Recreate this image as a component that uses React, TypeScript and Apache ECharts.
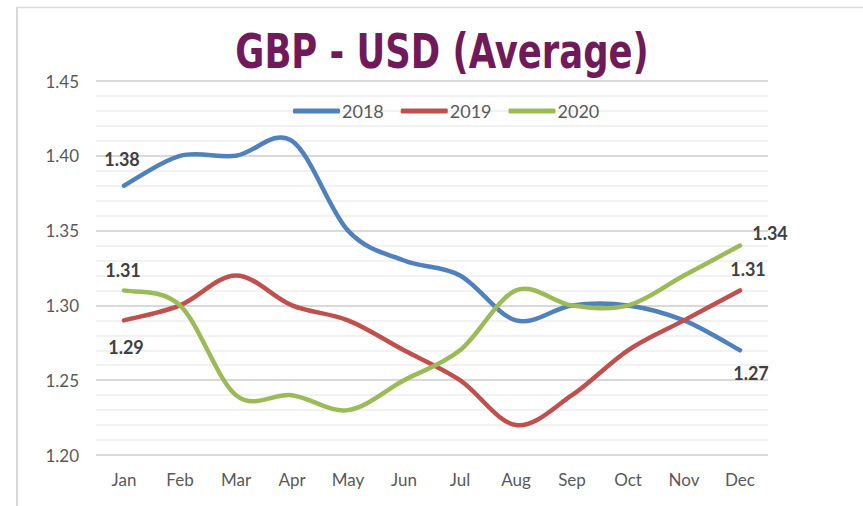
import React, { useEffect, useRef } from "react";
import * as echarts from "echarts";

const months = ["Jan", "Feb", "Mar", "Apr", "May", "Jun", "Jul", "Aug", "Sep", "Oct", "Nov", "Dec"];
const seriesNames = ["2018", "2019", "2020"];
const values2018 = [1.38, 1.40, 1.40, 1.41, 1.35, 1.33, 1.32, 1.29, 1.30, 1.30, 1.29, 1.27];
const values2019 = [1.29, 1.30, 1.32, 1.30, 1.29, 1.27, 1.25, 1.22, 1.24, 1.27, 1.29, 1.31];
const values2020 = [1.31, 1.30, 1.24, 1.24, 1.23, 1.25, 1.27, 1.31, 1.30, 1.30, 1.32, 1.34];
const colors = ["#4F81BD", "#C0504D", "#9BBB59"];

// which points carry a value label, and where the label sits relative to the point (px)
const labelSpots: Record<string, { index: number; offset: [number, number] }[]> = {
  "2018": [
    { index: 0, offset: [-2, -27] },
    { index: 11, offset: [11, 23] },
  ],
  "2019": [
    { index: 0, offset: [2, 27] },
    { index: 11, offset: [8, -21] },
  ],
  "2020": [
    { index: 0, offset: [-1, -20] },
    { index: 11, offset: [30, -13] },
  ],
};

const FONT = "Lato, 'Open Sans', sans-serif";

// Excel-like smoothed curve (Catmull-Rom converted to cubic Bezier) through pixel points
function smoothPath(pts: number[][]): string {
  let d = `M${pts[0][0]},${pts[0][1]}`;
  for (let i = 0; i < pts.length - 1; i++) {
    const p0 = pts[Math.max(0, i - 1)];
    const p1 = pts[i];
    const p2 = pts[i + 1];
    const p3 = pts[Math.min(pts.length - 1, i + 2)];
    const t = 1 / 6;
    const c1x = p1[0] + (p2[0] - p0[0]) * t;
    const c1y = p1[1] + (p2[1] - p0[1]) * t;
    const c2x = p2[0] - (p3[0] - p1[0]) * t;
    const c2y = p2[1] - (p3[1] - p1[1]) * t;
    d += ` C${c1x},${c1y} ${c2x},${c2y} ${p2[0]},${p2[1]}`;
  }
  return d;
}

export default function App() {
  const ref = useRef<HTMLDivElement>(null);
  useEffect(() => {
    if (!ref.current) return;
    const chart = echarts.init(ref.current, null, { renderer: "svg" });
    const all = [values2018, values2019, values2020];
    const series = seriesNames.map((name, si) => {
      const vals = all[si];
      const spots = labelSpots[name] || [];
      return {
        name,
        type: "custom",
        coordinateSystem: "cartesian2d",
        clip: false,
        z: 3 + si,
        itemStyle: { color: colors[si] },
        encode: { x: 0, y: 1 },
        data: vals.map((v, i) => [i, v]),
        renderItem: (params: any, api: any) => {
          const i = params.dataIndex;
          const children: any[] = [];
          if (i === 0) {
            const pts = vals.map((v, k) => api.coord([k, v]));
            children.push({
              type: "path",
              shape: { pathData: smoothPath(pts) },
              style: {
                fill: "none",
                stroke: colors[si],
                lineWidth: 4.5,
                lineCap: "round",
                lineJoin: "round",
              },
            });
          }
          const spot = spots.find((s) => s.index === i);
          if (spot) {
            const p = api.coord([i, vals[i]]);
            children.push({
              type: "text",
              x: p[0] + spot.offset[0],
              y: p[1] + spot.offset[1],
              z2: 10,
              style: {
                text: vals[i].toFixed(2),
                fill: "#404040",
                fontFamily: FONT,
                fontWeight: "bold",
                fontSize: 18,
                textAlign: "center",
                textVerticalAlign: "middle",
              },
            });
          }
          if (!children.length) return null;
          return { type: "group", children };
        },
      };
    });
    chart.setOption({
      animation: false,
      backgroundColor: "#ffffff",
      color: colors,
      grid: { left: 96, right: 95, top: 81, bottom: 51 },
      legend: {
        data: seriesNames.map((n) => ({ name: n, icon: "roundRect" })),
        left: 288,
        top: 97,
        itemWidth: 47,
        itemHeight: 5,
        itemGap: 17,
        textStyle: { color: "#595959", fontFamily: FONT, fontSize: 18, padding: [0, 0, 0, -3] },
      },
      xAxis: {
        type: "category",
        data: months,
        boundaryGap: true,
        axisLine: { show: false },
        axisTick: { show: false },
        axisLabel: { color: "#595959", fontFamily: FONT, fontSize: 17, margin: 16 },
      },
      yAxis: {
        type: "value",
        min: 1.2,
        max: 1.45,
        interval: 0.05,
        axisLine: { show: false },
        axisTick: { show: false },
        axisLabel: {
          color: "#595959",
          fontFamily: FONT,
          fontSize: 17,
          margin: 17,
          formatter: (v: number) => v.toFixed(2),
        },
        splitLine: { lineStyle: { color: "#d9d9d9", width: 2 } },
        minorTick: { show: false, splitNumber: 5 },
        minorSplitLine: { show: true, lineStyle: { color: "#eeeeee", width: 1.5 } },
      },
      graphic: [
        { type: "line", shape: { x1: 17, y1: 7, x2: 17, y2: 506 }, style: { stroke: "#d9d9d9", lineWidth: 2 } },
        { type: "line", shape: { x1: 16, y1: 7.5, x2: 863, y2: 7.5 }, style: { stroke: "#dcdcdc", lineWidth: 1.5 } },
        {
          type: "text",
          x: 442,
          y: 51,
          scaleX: 0.82,
          style: {
            text: "GBP - USD (Average)",
            fill: "#701A5A",
            fontFamily: "'Liberation Sans Narrow', 'DejaVu Sans Condensed', sans-serif",
            fontWeight: "bold",
            fontSize: 48,
            textAlign: "center",
            textVerticalAlign: "middle",
          },
        },
      ],
      series,
    });
    return () => chart.dispose();
  }, []);
  return (
    <div
      ref={ref}
      style={{ position: "fixed", left: 0, top: 0, width: 863, height: 506 }}
    />
  );
}
